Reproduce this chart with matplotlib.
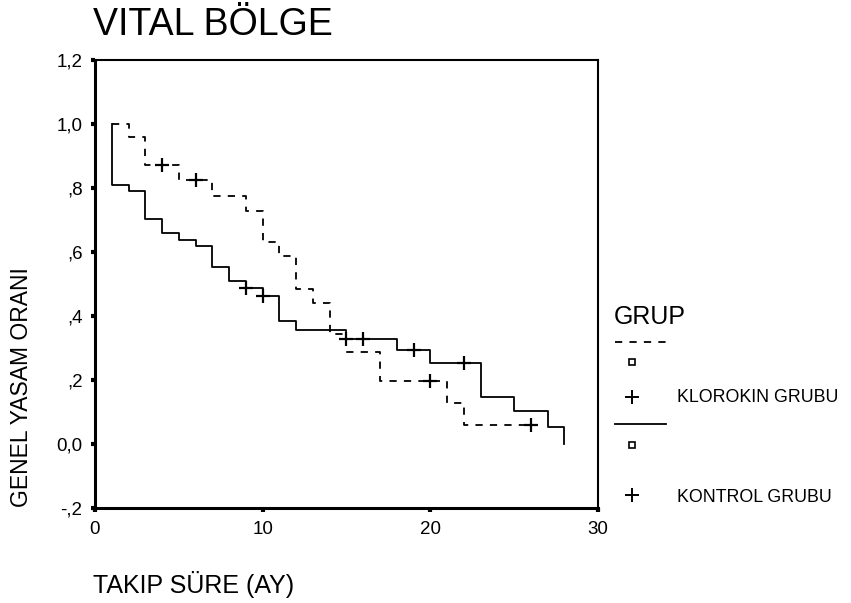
import matplotlib
matplotlib.use("Agg")
import matplotlib.pyplot as plt
from matplotlib.lines import Line2D

plt.rcParams['font.family'] = ['Liberation Sans', 'DejaVu Sans']

# Klorokin grubu (dashed) Kaplan-Meier steps
klor_t = [1, 2, 3, 5, 7, 9, 10, 11, 12, 13, 14, 15, 17, 21, 22, 26]
klor_s = [1.0, 0.96, 0.871, 0.826, 0.774, 0.729, 0.63, 0.586, 0.485, 0.44,
          0.344, 0.289, 0.198, 0.128, 0.06, 0.06]
klor_cens_t = [4, 6, 20, 26]
klor_cens_s = [0.871, 0.826, 0.198, 0.06]

# Kontrol grubu (solid)
kont_t = [1, 1, 2, 3, 4, 5, 6, 7, 8, 9, 10, 11, 12, 15, 18, 20, 23, 25, 27, 28]
kont_s = [1.0, 0.81, 0.79, 0.703, 0.66, 0.638, 0.62, 0.552, 0.51, 0.488, 0.464,
          0.383, 0.355, 0.329, 0.293, 0.253, 0.148, 0.102, 0.052, 0.0]
kont_cens_t = [9, 10, 15, 16, 19, 22]
kont_cens_s = [0.488, 0.464, 0.329, 0.329, 0.293, 0.253]

xticks = [0, 10, 20, 30]
yticks = [-0.2, 0.0, 0.2, 0.4, 0.6, 0.8, 1.0, 1.2]
yticklabels = ["-,2", "0,0", ",2", ",4", ",6", ",8", "1,0", "1,2"]

title = "VITAL BÖLGE"
xlabel = "TAKIP SÜRE (AY)"
ylabel = "GENEL YASAM ORANI"
legend_title = "GRUP"
group_names = ["KLOROKIN GRUBU", "KONTROL GRUBU"]

W, H = 851, 603
fig = plt.figure(figsize=(W / 100, H / 100), dpi=100)


def P(x, y):
    return (x / W, 1 - y / H)


ax = fig.add_axes([95 / W, 1 - 508 / H, (598 - 95) / W, (508 - 60) / H])
ax.set_xlim(0, 30)
ax.set_ylim(-0.2, 1.2)

dash = (0, (4, 4))
ax.step(klor_t, klor_s, where='post', color='black', lw=1.3, linestyle=dash)
ax.step(kont_t, kont_s, where='post', color='black', lw=1.3)
ax.plot(klor_cens_t, klor_cens_s, linestyle='none', marker='+', ms=10,
        mew=1.6, color='black')
ax.plot(kont_cens_t, kont_cens_s, linestyle='none', marker='+', ms=10,
        mew=1.6, color='black')

ax.set_xticks(xticks)
ax.set_xticklabels([str(v) for v in xticks])
ax.set_yticks(yticks)
ax.set_yticklabels(yticklabels)
ax.tick_params(direction='out', length=3, width=3, labelsize=13.5, pad=6,
               color='black')
ax.spines['left'].set_linewidth(2.2)
ax.spines['bottom'].set_linewidth(2.2)
ax.spines['top'].set_linewidth(1.5)
ax.spines['right'].set_linewidth(1.5)

fig.text(*P(93, 25), title, fontsize=27, ha='left', va='center')
fig.text(*P(93, 585), xlabel, fontsize=18, ha='left', va='center')
fig.text(*P(22, 387), ylabel, fontsize=16.5, ha='center', va='center',
         rotation=90)

# legend
fig.text(*P(614, 317), legend_title, fontsize=18, ha='left', va='center')
fig.add_artist(Line2D([615 / W, 667 / W], [1 - 342 / H, 1 - 342 / H],
                      color='black', lw=1.3, linestyle=dash))
fig.add_artist(Line2D([632 / W], [1 - 362 / H], marker='s', ms=5,
                      mfc='white', mec='black', mew=1.2, linestyle='none'))
fig.add_artist(Line2D([632 / W], [1 - 397 / H], marker='+', ms=10,
                      mec='black', mew=1.4, linestyle='none'))
fig.text(*P(677, 398), group_names[0], fontsize=12.8, ha='left', va='center')
fig.add_artist(Line2D([615 / W, 666 / W], [1 - 424 / H, 1 - 424 / H],
                      color='black', lw=1.3))
fig.add_artist(Line2D([632 / W], [1 - 445 / H], marker='s', ms=5,
                      mfc='white', mec='black', mew=1.2, linestyle='none'))
fig.add_artist(Line2D([632 / W], [1 - 495 / H], marker='+', ms=10,
                      mec='black', mew=1.4, linestyle='none'))
fig.text(*P(677, 497), group_names[1], fontsize=12.8, ha='left', va='center')

fig.savefig("out.png", dpi=100)
